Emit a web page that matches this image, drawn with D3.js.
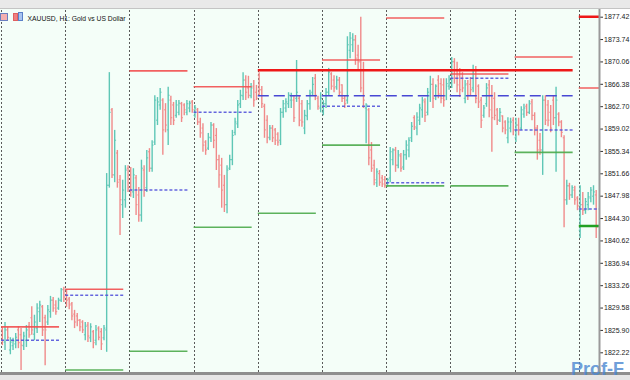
<!DOCTYPE html>
<html><head><meta charset="utf-8">
<script src="https://cdn.jsdelivr.net/npm/d3@7"></script>
<style>
html,body{margin:0;padding:0;background:#fff;}
svg{display:block;}
</style></head>
<body><svg id="chart" width="630" height="380"></svg>
<script>
// ---- DATA: hourly OHLC bars per trading day, [open, high, low, close] ----
const day0 = [
[1825.9,1826.4,1823.4,1824.2],[1823.9,1827.2,1822.6,1825.9],[1825.9,1826.4,1824.2,1824.7],[1822.6,1824.7,1821.9,1823.9],
[1823.3,1824.6,1822.6,1824.1],[1823.6,1825.4,1822.9,1824.7],[1825.9,1826.5,1822.9,1823.8],[1825.1,1826.2,1819.3,1823.4],
[1823.3,1825.6,1822.6,1824.9],[1824.2,1826.7,1823.1,1825.9],[1826.5,1827.2,1824.6,1825.1],[1827.9,1829.8,1825.1,1825.9],
[1825.2,1828.4,1824.2,1827.2],[1826.2,1830.3,1825.4,1829.5],[1828.9,1830.7,1827.2,1830.0],[1829.7,1830.0,1824.9,1825.9],
[1827.9,1828.4,1820.1,1825.9],[1827.2,1830.0,1826.7,1829.2],[1828.9,1831.5,1827.9,1830.8],[1830.8,1831.3,1828.9,1829.5],
[1830.0,1830.8,1828.4,1828.9],[1829.5,1831.2,1829.2,1830.8],[1830.8,1832.8,1830.5,1832.5],[1832.6,1833.0,1830.5,1831.3]];
const day1 = [
[1832.5,1832.6,1829.7,1830.8],[1831.0,1831.3,1829.3,1830.0],[1830.2,1830.5,1827.5,1828.2],[1828.5,1829.2,1826.2,1827.2],
[1828.2,1828.7,1826.5,1827.5],[1827.5,1827.7,1825.7,1826.4],[1827.2,1827.5,1825.4,1825.9],[1825.1,1827.2,1824.2,1826.5],
[1826.7,1827.2,1823.9,1824.9],[1824.6,1827.0,1823.9,1826.4],[1825.6,1825.9,1822.9,1823.8],[1824.2,1826.7,1823.4,1825.9],
[1826.2,1826.5,1824.2,1824.7],[1825.6,1826.2,1822.6,1823.6],[1824.6,1826.7,1824.2,1826.2],[1825.9,1851.7,1822.3,1849.7],
[1849.7,1868.3,1849.3,1861.7],[1862.1,1862.4,1850.9,1851.4],[1851.4,1858.8,1850.2,1857.1],[1855.0,1855.5,1849.3,1850.2],
[1850.6,1851.4,1841.5,1847.3],[1846.5,1850.6,1844.3,1848.9],[1847.3,1853.0,1846.0,1852.2],[1852.5,1853.0,1848.6,1849.3]];
const day2 = [
[1852.2,1852.7,1847.8,1848.9],[1848.6,1852.5,1847.6,1851.4],[1850.9,1851.4,1844.8,1846.5],[1848.1,1849.4,1843.7,1844.8],
[1844.8,1853.9,1843.7,1852.5],[1852.2,1853.0,1847.8,1848.9],[1849.3,1855.5,1848.6,1854.2],[1855.2,1855.8,1851.9,1852.5],
[1852.5,1857.1,1851.9,1856.3],[1856.8,1864.5,1856.3,1863.7],[1860.4,1864.2,1859.6,1863.4],[1862.9,1865.7,1862.1,1865.0],
[1863.7,1864.0,1854.7,1858.8],[1862.1,1863.2,1858.4,1859.6],[1858.8,1865.9,1856.3,1864.5],[1863.7,1864.4,1859.6,1860.8],
[1862.9,1863.4,1859.6,1860.4],[1861.2,1863.7,1860.8,1862.9],[1861.7,1863.7,1861.2,1863.2],[1863.1,1863.4,1860.1,1860.8],
[1862.9,1863.2,1861.2,1862.1],[1861.7,1863.7,1861.2,1863.1],[1862.4,1863.6,1861.7,1863.2],[1863.4,1863.7,1861.6,1862.1]];
const day3 = [
[1861.2,1862.9,1860.8,1862.4],[1862.1,1862.4,1859.6,1860.1],[1860.1,1860.8,1857.5,1858.3],[1859.1,1859.9,1855.2,1856.3],
[1856.8,1857.1,1854.7,1855.5],[1855.8,1858.3,1855.5,1857.6],[1857.5,1860.1,1856.8,1859.6],[1859.6,1859.9,1855.8,1857.1],
[1857.9,1859.1,1852.2,1853.9],[1853.9,1854.7,1849.3,1851.4],[1853.0,1854.2,1846.0,1848.9],[1849.7,1851.4,1845.3,1846.5],
[1846.5,1853.0,1845.1,1852.2],[1852.5,1854.7,1852.2,1853.9],[1853.9,1858.8,1853.0,1857.9],[1858.4,1860.8,1857.9,1860.1],
[1859.8,1863.7,1859.1,1862.9],[1863.1,1865.4,1862.4,1864.5],[1864.4,1868.3,1863.7,1867.0],[1867.0,1867.8,1863.7,1865.0],
[1865.7,1867.7,1864.0,1864.5],[1864.4,1866.5,1864.0,1865.7],[1866.0,1867.0,1862.6,1863.7],[1865.0,1866.2,1863.7,1864.0]];
const day4 = [
[1867.8,1868.3,1864.5,1865.4],[1865.4,1866.0,1862.4,1863.1],[1862.7,1863.1,1857.5,1858.8],[1860.4,1861.2,1856.6,1857.6],
[1857.5,1859.6,1857.1,1859.1],[1859.1,1859.6,1856.8,1857.5],[1858.8,1859.1,1856.3,1857.1],[1858.1,1858.4,1856.2,1856.8],
[1857.1,1862.4,1856.3,1861.7],[1861.7,1863.7,1860.8,1863.1],[1862.4,1864.0,1861.7,1863.4],[1863.1,1865.0,1862.4,1864.5],
[1863.7,1864.9,1862.4,1864.4],[1863.7,1864.4,1860.1,1860.8],[1864.0,1870.3,1863.4,1865.0],[1864.0,1864.4,1859.4,1860.4],
[1863.1,1863.7,1859.3,1860.1],[1859.1,1862.1,1858.1,1861.2],[1861.1,1863.7,1860.4,1863.1],[1863.1,1865.4,1862.1,1864.7],
[1865.0,1867.5,1864.4,1866.3],[1867.3,1868.0,1863.7,1864.5],[1864.0,1864.4,1862.1,1862.7],[1862.4,1865.0,1861.7,1864.0]];
const day5 = [
[1861.7,1863.7,1861.2,1863.1],[1863.1,1865.7,1862.4,1865.0],[1865.0,1869.0,1864.5,1868.3],[1868.0,1868.3,1865.4,1866.0],
[1867.0,1867.8,1865.0,1865.7],[1865.9,1867.7,1865.4,1867.0],[1867.0,1867.5,1864.4,1865.0],[1866.2,1866.3,1863.4,1864.0],
[1864.0,1864.5,1862.4,1863.1],[1863.7,1874.2,1863.1,1872.8],[1871.9,1874.9,1870.6,1873.9],[1872.8,1874.7,1871.6,1873.6],
[1873.6,1874.4,1869.5,1870.6],[1871.1,1872.8,1868.7,1870.0],[1870.0,1877.4,1865.0,1865.7],[1868.7,1870.0,1862.4,1863.7],
[1862.4,1863.2,1856.6,1862.9],[1862.1,1862.4,1853.0,1854.2],[1855.5,1856.8,1851.9,1852.5],[1853.0,1853.9,1849.7,1850.6],
[1850.1,1852.5,1849.4,1851.9],[1851.6,1852.2,1849.6,1850.2],[1850.9,1851.4,1849.4,1849.9],[1850.6,1851.2,1849.3,1849.7]];
const day6 = [
[1849.7,1850.9,1849.4,1850.6],[1850.9,1856.0,1850.2,1855.2],[1853.9,1855.8,1853.0,1855.5],[1855.5,1856.0,1851.9,1853.0],
[1853.0,1855.5,1852.5,1854.7],[1854.5,1855.0,1851.9,1852.5],[1852.7,1855.5,1852.2,1854.7],[1854.7,1857.1,1853.9,1856.3],
[1855.5,1857.6,1854.3,1857.1],[1857.5,1860.1,1856.8,1859.4],[1860.8,1861.2,1858.8,1859.3],[1859.1,1861.7,1857.9,1860.9],
[1860.4,1863.1,1859.6,1862.4],[1862.1,1864.2,1860.8,1863.7],[1863.4,1864.0,1860.1,1861.2],[1861.7,1865.7,1861.2,1865.0],
[1864.4,1867.7,1863.4,1866.3],[1866.3,1867.3,1862.4,1864.0],[1864.4,1866.3,1863.7,1866.0],[1867.0,1867.8,1864.0,1864.7],
[1866.4,1867.3,1863.2,1864.0],[1866.2,1867.3,1862.6,1863.7],[1864.4,1867.3,1863.7,1866.4],[1866.0,1867.8,1865.4,1867.0]];
const day7 = [
[1866.4,1870.8,1865.7,1870.0],[1870.0,1870.6,1866.4,1867.3],[1868.7,1870.0,1865.0,1866.2],[1867.8,1869.0,1864.2,1865.4],
[1867.3,1868.3,1865.0,1865.7],[1864.0,1867.0,1863.2,1866.2],[1866.4,1867.0,1863.7,1864.5],[1866.3,1867.5,1864.5,1865.4],
[1865.7,1869.5,1865.0,1868.7],[1868.7,1869.3,1863.2,1864.0],[1866.0,1866.3,1862.4,1863.4],[1863.7,1864.2,1859.1,1860.4],
[1861.2,1862.9,1860.8,1862.4],[1863.1,1866.5,1862.6,1865.7],[1866.2,1867.0,1860.9,1862.1],[1864.5,1866.2,1855.2,1860.8],
[1864.0,1865.0,1860.4,1861.2],[1862.1,1862.4,1859.6,1860.4],[1860.4,1862.4,1860.1,1861.7],[1861.1,1861.2,1858.4,1859.1],
[1860.1,1860.4,1858.1,1858.8],[1857.5,1860.9,1856.6,1860.1],[1859.1,1860.8,1858.4,1860.1],[1860.4,1860.9,1857.9,1858.8]];
const day8 = [
[1857.5,1860.8,1856.8,1859.6],[1859.6,1860.8,1857.9,1858.8],[1859.1,1862.7,1858.8,1862.1],[1861.4,1863.1,1860.8,1862.4],
[1862.7,1863.1,1861.1,1861.7],[1861.7,1863.7,1861.4,1863.1],[1863.4,1863.9,1860.4,1861.2],[1861.2,1861.7,1857.9,1859.1],
[1859.1,1859.6,1853.9,1855.5],[1857.1,1858.3,1854.7,1855.5],[1855.5,1864.5,1851.4,1863.7],[1863.7,1864.5,1859.6,1860.4],
[1862.9,1863.7,1859.4,1860.4],[1861.7,1862.9,1858.4,1859.1],[1863.7,1864.4,1859.6,1860.8],[1860.8,1865.9,1851.9,1863.7],
[1861.4,1861.7,1859.4,1860.1],[1860.1,1860.4,1857.6,1858.4],[1857.5,1857.9,1842.8,1847.3],[1847.3,1850.6,1846.5,1849.6],
[1849.6,1850.1,1847.3,1848.1],[1848.1,1849.7,1847.6,1849.3],[1848.9,1849.6,1846.5,1847.3],[1847.6,1847.9,1845.6,1846.3]];
const day9 = [
[1842.3,1849.7,1841.0,1846.5],[1846.5,1848.6,1844.8,1845.6],[1845.6,1847.6,1845.0,1847.0],[1846.5,1848.6,1845.6,1847.8],
[1847.6,1849.4,1846.9,1848.9],[1847.9,1849.7,1846.5,1848.6],[1848.1,1848.9,1841.0,1842.8]];

// daily levels (one value per day; null = not shown)
const dailyHigh  = [1826.4, 1832.6, 1868.5, 1865.9, null,   1870.3, 1877.2, 1868.0, 1870.8, 1865.7];
const dailyPivot = [1824.2, 1831.6, 1848.9, 1861.7, null,   1862.7, 1850.1, 1867.3, 1858.8, 1845.8];
const dailyLow   = [null,   1819.3, 1822.4, 1842.8, 1845.1, 1856.3, 1849.6, 1849.6, 1855.1, null];
// weekly levels (start day, end day)
const weekStart = [4, 9];
const weekEnd   = [8, 9];
const weekHigh  = [1868.6, 1877.4];
const weekPivot = [1864.4, null];
const weekLow   = [null, 1843.0];

const priceTicks = [1877.42,1873.74,1870.06,1866.38,1862.70,1859.02,1855.34,1851.66,1847.98,1844.30,1840.62,1836.94,1833.26,1829.58,1825.90,1822.22];
const titleText = "XAUUSD, H1:  Gold vs US Dollar";
const watermarkText = "Prof-F";

// ---- LAYOUT ----
const W = 630, H = 380;
const plot = {left: 0, right: 599, top: 10, bottom: 372};
const barsPerDay = 24;
const levelSpan = 21.7; // bars
const days = [day0, day1, day2, day3, day4, day5, day6, day7, day8, day9];
const bars = days.flatMap((d, di) => d.map((b, j) => ({i: di * barsPerDay + j, o: b[0], h: b[1], l: b[2], c: b[3]})));

const x = d3.scaleLinear().domain([0, barsPerDay * 9]).range([1, 578.8]);
const y = d3.scaleLinear().domain([1818.98, 1878.52]).range([plot.bottom, plot.top]);

const svg = d3.select("#chart");
svg.append("rect").attr("width", W).attr("height", H).attr("fill", "#ffffff");
svg.append("rect").attr("x", 0).attr("y", 0).attr("width", W).attr("height", 8).attr("fill", "#e9e9e9");
svg.append("line").attr("x1", 0).attr("x2", W).attr("y1", 8.5).attr("y2", 8.5).attr("stroke", "#c4c4c4");
svg.append("rect").attr("x", plot.left).attr("y", plot.top - 1).attr("width", plot.right - plot.left)
   .attr("height", plot.bottom - plot.top + 1).attr("fill", "#f4fef8");

svg.append("defs").append("clipPath").attr("id", "clip").append("rect")
   .attr("x", plot.left).attr("y", plot.top - 1).attr("width", plot.right - plot.left).attr("height", plot.bottom - plot.top + 1);
const g = svg.append("g").attr("clip-path", "url(#clip)");

// period separators
g.append("g").selectAll("line").data(d3.range(0, 10)).join("line")
  .attr("x1", d => Math.round(x(d * barsPerDay)) + 0.5).attr("x2", d => Math.round(x(d * barsPerDay)) + 0.5)
  .attr("y1", plot.top).attr("y2", plot.bottom)
  .attr("stroke", "#5a5a5a").attr("stroke-width", 1).attr("stroke-dasharray", "2,2");

// bars
const up = "#5fc7b6", dn = "#f08a8a";
const bg = g.append("g");
bars.forEach(b => {
  const cx = x(b.i + 0.5);
  const col = b.c >= b.o ? up : dn;
  bg.append("line").attr("x1", cx).attr("x2", cx).attr("y1", y(b.h)).attr("y2", y(b.l))
    .attr("stroke", col).attr("stroke-width", 1.4);
  bg.append("line").attr("x1", cx - 1.4).attr("x2", cx).attr("y1", y(b.o)).attr("y2", y(b.o))
    .attr("stroke", col).attr("stroke-width", 1);
  bg.append("line").attr("x1", cx).attr("x2", cx + 1.4).attr("y1", y(b.c)).attr("y2", y(b.c))
    .attr("stroke", col).attr("stroke-width", 1);
});

// daily levels
function dayLevels(arr, color, width, dash, op) {
  g.append("g").selectAll("line").data(arr.map((v, i) => ({v, i})).filter(d => d.v !== null)).join("line")
    .attr("x1", d => x(d.i * barsPerDay)).attr("x2", d => x(d.i * barsPerDay + levelSpan))
    .attr("y1", d => y(d.v)).attr("y2", d => y(d.v))
    .attr("stroke", color).attr("stroke-width", width).attr("stroke-dasharray", dash).attr("opacity", op);
}
dayLevels(dailyHigh, "#f25050", 1.6, null, 0.9);
dayLevels(dailyPivot, "#5656dc", 1.5, "3,2", 0.9);
dayLevels(dailyLow, "#4caa4c", 1.6, null, 0.9);

function weekLevels(arr, color, width, dash) {
  g.append("g").selectAll("line").data(arr.map((v, i) => ({v, i})).filter(d => d.v !== null)).join("line")
    .attr("x1", d => x(weekStart[d.i] * barsPerDay)).attr("x2", d => x(weekEnd[d.i] * barsPerDay + levelSpan))
    .attr("y1", d => y(d.v)).attr("y2", d => y(d.v))
    .attr("stroke", color).attr("stroke-width", width).attr("stroke-dasharray", dash);
}
weekLevels(weekHigh, "#ee1818", 2.4, null);
weekLevels(weekPivot, "#4848d4", 1.5, "11,5");
weekLevels(weekLow, "#22a022", 2.4, null);

// bottom border
svg.append("rect").attr("x", 0).attr("y", plot.bottom).attr("width", W).attr("height", 3).attr("fill", "#8e8e8e");
svg.append("rect").attr("x", 0).attr("y", plot.bottom + 3).attr("width", W).attr("height", H - plot.bottom - 3).attr("fill", "#e6e6e6");

// watermark (under the axis labels)
svg.append("text").attr("x", 571).attr("y", 375).text(watermarkText)
  .attr("font-family", "Liberation Sans, Arial, sans-serif").attr("font-size", 18).attr("font-weight", "bold")
  .attr("fill", "#4c88d2").attr("opacity", 0.8);

// price axis
const axis = d3.axisRight(y).tickValues(priceTicks).tickFormat(d3.format(".2f")).tickSize(3).tickPadding(1);
const ag = svg.append("g").attr("transform", `translate(${plot.right + 1},0)`).call(axis);
ag.select(".domain").remove();
ag.selectAll(".tick line").attr("stroke", "#333");
ag.selectAll(".tick text").attr("font-family", "Liberation Sans, Arial, sans-serif").attr("font-size", 7)
  .attr("fill", "#222");
svg.append("line").attr("x1", plot.right + 0.5).attr("x2", plot.right + 0.5).attr("y1", plot.top - 1).attr("y2", plot.bottom)
  .attr("stroke", "#9a9a9a").attr("stroke-width", 2);

// title + icons
svg.append("rect").attr("x", 0.5).attr("y", 13.5).attr("width", 7).attr("height", 7).attr("fill", "#f5b0b0").attr("stroke", "#6a7fc0");
svg.append("rect").attr("x", 13.5).attr("y", 13.5).attr("width", 4).attr("height", 7).attr("fill", "#f08080").attr("stroke", "#e06060");
svg.append("rect").attr("x", 18.5).attr("y", 12.5).attr("width", 4).attr("height", 8).attr("fill", "#a8c4f0").attr("stroke", "#5a80c8");
svg.append("text").attr("x", 27.5).attr("y", 20.5).text(titleText)
  .attr("font-family", "Liberation Sans, Arial, sans-serif").attr("font-size", 8).attr("fill", "#111")
  .attr("textLength", 98).attr("lengthAdjust", "spacingAndGlyphs");
</script>
</body></html>
